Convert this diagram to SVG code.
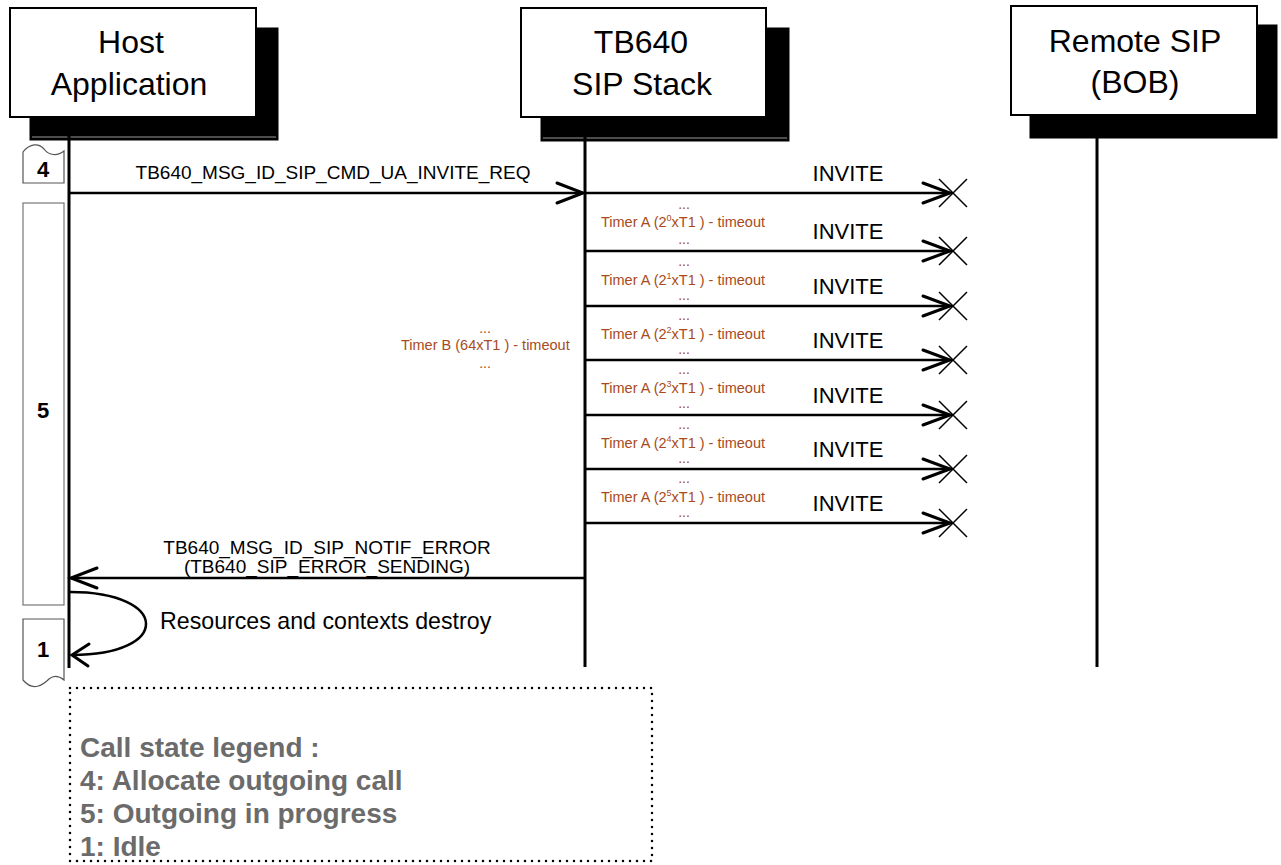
<svg xmlns="http://www.w3.org/2000/svg" width="1281" height="865" viewBox="0 0 1281 865">
<defs>
<style>
.box{fill:#fff;stroke:#000;stroke-width:2}
.shadow{fill:#000;stroke:#000;stroke-width:1}
.head{font-family:"Liberation Sans",Arial,sans-serif;font-size:32px;fill:#000;text-anchor:middle}
.life{stroke:#000;stroke-width:3;fill:none}
.msg{stroke:#000;stroke-width:2.5;fill:none}
.head-arrow{stroke:#000;stroke-width:3;fill:none;stroke-linecap:round;stroke-linejoin:miter}
.cross{stroke:#000;stroke-width:1.5;fill:none}
.lbl{font-family:"Liberation Sans",Arial,sans-serif;font-size:19px;fill:#000;text-anchor:middle}
.inv{font-family:"Liberation Sans",Arial,sans-serif;font-size:22px;fill:#000;text-anchor:middle}
.tmr{font-family:"Liberation Sans",Arial,sans-serif;font-size:14.5px;fill:#a84a1c}
.dots{font-family:"Liberation Sans",Arial,sans-serif;font-size:14px;fill:#a84a1c;text-anchor:middle}
.state{fill:#fff;stroke:#555;stroke-width:1.2}
.stnum{font-family:"Liberation Sans",Arial,sans-serif;font-size:22px;font-weight:bold;fill:#000;text-anchor:middle}
.leg{font-family:"Liberation Sans",Arial,sans-serif;font-size:28px;font-weight:bold;fill:#6b6b6b}
</style>
</defs>

<g id="host">
<rect class="shadow" x="30" y="28" width="248" height="112"/>
<line x1="32" y1="137" x2="276" y2="137" stroke="#999" stroke-width="1"/>
<rect class="box" x="10" y="8" width="246" height="109"/>
<text class="head" x="131" y="53">Host</text>
<text class="head" x="129" y="95">Application</text>
</g>

<g id="tb640">
<rect class="shadow" x="541" y="28" width="248" height="113"/>
<line x1="543" y1="138" x2="787" y2="138" stroke="#999" stroke-width="1"/>
<rect class="box" x="521" y="8" width="245" height="109"/>
<text class="head" x="641" y="53">TB640</text>
<text class="head" x="642" y="95">SIP Stack</text>
</g>

<g id="remote">
<rect class="shadow" x="1030" y="25" width="247" height="113"/>
<rect class="box" x="1011" y="6" width="246" height="109"/>
<text class="head" x="1135" y="52">Remote SIP</text>
<text class="head" x="1135" y="93">(BOB)</text>
</g>

<g id="lifelines">
<line class="life" x1="69" y1="117" x2="69" y2="668"/>
<line class="life" x1="585" y1="117" x2="585" y2="667"/>
<line class="life" x1="1097" y1="138" x2="1097" y2="667"/>
</g>

<g id="state-4">
<path class="state" d="M23,183 L23,152 C30,143 39,143 44,149 C49,156 58,156 64,151 L64,183 Z"/>
<text class="stnum" x="43" y="177">4</text>
</g>
<g id="state-5">
<rect x="23" y="203" width="41" height="402" fill="#fff" stroke="#777" stroke-width="1.2"/>
<text class="stnum" x="43" y="418">5</text>
</g>
<g id="state-1">
<path class="state" d="M23,619 L64,619 L64,680 C59,676 54,675 49,679 C43,685 33,692 23,680 Z"/>
<text class="stnum" x="43" y="657">1</text>
</g>

<g id="connectors">
<line class="msg" x1="69" y1="193" x2="583" y2="193"/>
<polyline class="head-arrow" points="557,183 583,193 557,203"/>
<text class="lbl" x="333" y="179">TB640_MSG_ID_SIP_CMD_UA_INVITE_REQ</text>

<g id="invites">
<line class="msg" x1="585" y1="193" x2="950" y2="193"/>
<polyline class="head-arrow" points="923,183 950,193 923,203"/>
<path class="cross" d="M939,179 L967,207 M939,207 L967,179"/>
<text class="inv" x="848" y="181">INVITE</text>

<line class="msg" x1="585" y1="251" x2="950" y2="251"/>
<polyline class="head-arrow" points="923,241 950,251 923,261"/>
<path class="cross" d="M939,237 L967,265 M939,265 L967,237"/>
<text class="inv" x="848" y="239">INVITE</text>

<line class="msg" x1="585" y1="306" x2="950" y2="306"/>
<polyline class="head-arrow" points="923,296 950,306 923,316"/>
<path class="cross" d="M939,292 L967,320 M939,320 L967,292"/>
<text class="inv" x="848" y="294">INVITE</text>

<line class="msg" x1="585" y1="360" x2="950" y2="360"/>
<polyline class="head-arrow" points="923,350 950,360 923,370"/>
<path class="cross" d="M939,346 L967,374 M939,374 L967,346"/>
<text class="inv" x="848" y="348">INVITE</text>

<line class="msg" x1="585" y1="415" x2="950" y2="415"/>
<polyline class="head-arrow" points="923,405 950,415 923,425"/>
<path class="cross" d="M939,401 L967,429 M939,429 L967,401"/>
<text class="inv" x="848" y="403">INVITE</text>

<line class="msg" x1="585" y1="469" x2="950" y2="469"/>
<polyline class="head-arrow" points="923,459 950,469 923,479"/>
<path class="cross" d="M939,455 L967,483 M939,483 L967,455"/>
<text class="inv" x="848" y="457">INVITE</text>

<line class="msg" x1="585" y1="523" x2="950" y2="523"/>
<polyline class="head-arrow" points="923,513 950,523 923,533"/>
<path class="cross" d="M939,509 L967,537 M939,537 L967,509"/>
<text class="inv" x="848" y="511">INVITE</text>
</g>

<g id="timers-a">
<text class="dots" x="684" y="209">...</text>
<text class="tmr" x="601" y="227">Timer A (2<tspan font-size="9" dy="-6">0</tspan><tspan dy="6">xT1 ) - timeout</tspan></text>
<text class="dots" x="684" y="244">...</text>

<text class="dots" x="684" y="266">...</text>
<text class="tmr" x="601" y="285">Timer A (2<tspan font-size="9" dy="-6">1</tspan><tspan dy="6">xT1 ) - timeout</tspan></text>
<text class="dots" x="684" y="300">...</text>

<text class="dots" x="684" y="320">...</text>
<text class="tmr" x="601" y="339">Timer A (2<tspan font-size="9" dy="-6">2</tspan><tspan dy="6">xT1 ) - timeout</tspan></text>
<text class="dots" x="684" y="354">...</text>

<text class="dots" x="684" y="374">...</text>
<text class="tmr" x="601" y="393">Timer A (2<tspan font-size="9" dy="-6">3</tspan><tspan dy="6">xT1 ) - timeout</tspan></text>
<text class="dots" x="684" y="408">...</text>

<text class="dots" x="684" y="429">...</text>
<text class="tmr" x="601" y="448">Timer A (2<tspan font-size="9" dy="-6">4</tspan><tspan dy="6">xT1 ) - timeout</tspan></text>
<text class="dots" x="684" y="463">...</text>

<text class="dots" x="684" y="483">...</text>
<text class="tmr" x="601" y="502">Timer A (2<tspan font-size="9" dy="-6">5</tspan><tspan dy="6">xT1 ) - timeout</tspan></text>
<text class="dots" x="684" y="517">...</text>
</g>

<g id="timer-b">
<text class="dots" x="485" y="333">...</text>
<text class="tmr" x="401" y="350">Timer B (64xT1 ) - timeout</text>
<text class="dots" x="485" y="368">...</text>
</g>

<line class="msg" x1="585" y1="578" x2="71" y2="578"/>
<polyline class="head-arrow" points="97,568 71,578 97,588"/>
<text class="lbl" x="327" y="554" font-size="17.5">TB640_MSG_ID_SIP_NOTIF_ERROR</text>
<text class="lbl" x="327" y="573" font-size="17.5">(TB640_SIP_ERROR_SENDING)</text>

<path class="msg" d="M70,592 C170,592 172,655 72,655"/>
<polyline class="head-arrow" points="89,644 72,655 88,666"/>
<text x="160" y="629" font-family="Liberation Sans, Arial, sans-serif" font-size="23.2" fill="#000">Resources and contexts destroy</text>
</g>

<g id="legend">
<rect x="70" y="688" width="582" height="173" fill="none" stroke="#000" stroke-width="2.5" stroke-dasharray="0 7" stroke-linecap="round"/>
<text class="leg" x="80" y="757">Call state legend :</text>
<text class="leg" x="80" y="790">4: Allocate outgoing call</text>
<text class="leg" x="80" y="823">5: Outgoing in progress</text>
<text class="leg" x="80" y="856">1: Idle</text>
</g>
</svg>
